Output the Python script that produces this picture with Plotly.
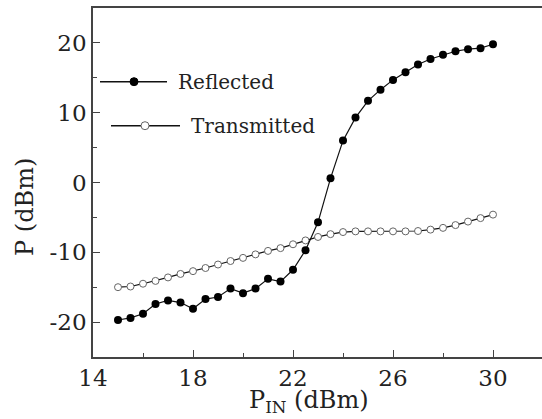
import plotly.graph_objects as go

# ---- data ----
p_in = [15.0, 15.5, 16.0, 16.5, 17.0, 17.5, 18.0, 18.5, 19.0, 19.5,
        20.0, 20.5, 21.0, 21.5, 22.0, 22.5, 23.0, 23.5, 24.0, 24.5,
        25.0, 25.5, 26.0, 26.5, 27.0, 27.5, 28.0, 28.5, 29.0, 29.5, 30.0]
reflected = [-19.7, -19.4, -18.8, -17.4, -16.9, -17.2, -18.1, -16.7, -16.4, -15.2,
             -15.85, -15.2, -13.8, -14.2, -12.5, -9.7, -5.7, 0.6, 6.0, 9.3,
             11.7, 13.3, 14.7, 15.8, 16.9, 17.7, 18.3, 18.8, 19.1, 19.25, 19.8]
transmitted = [-15.0, -14.9, -14.5, -14.1, -13.6, -13.1, -12.7, -12.25, -11.75, -11.25,
               -10.8, -10.3, -9.8, -9.4, -8.85, -8.3, -7.8, -7.4, -7.1, -7.0,
               -7.0, -7.0, -7.0, -7.0, -6.95, -6.75, -6.5, -6.1, -5.6, -5.1, -4.6]
series_names = ["Reflected", "Transmitted"]
x_ticks = [14, 18, 22, 26, 30]
y_ticks = [-20, -10, 0, 10, 20]
y_tick_labels = ["-20", "-10", "0", "10", "20"]

FONT = "DejaVu Serif"
TXT = "#222222"
W, H = 542, 419
ML, MR, MT, MB = 93, 0, 8, 62
PW, PH = W - ML - MR, H - MT - MB

def px(xp):
    return (xp - ML) / PW

def py(yp):
    return (H - MB - yp) / PH

fig = go.Figure()
fig.add_trace(go.Scatter(
    x=p_in, y=transmitted, mode="lines+markers", name=series_names[1],
    line=dict(color="#111111", width=1.2),
    marker=dict(symbol="circle", size=7, color="white",
                line=dict(color="#666666", width=1)),
    showlegend=False))
fig.add_trace(go.Scatter(
    x=p_in, y=reflected, mode="lines+markers", name=series_names[0],
    line=dict(color="#111111", width=1.2),
    marker=dict(symbol="circle", size=8, color="black",
                line=dict(color="black", width=0)),
    showlegend=False))

# ---- manual legend ----
legend_items = [
    (series_names[0], 100, 167, 134, 81.7, 176, True),
    (series_names[1], 111, 180, 145, 125.7, 189, False),
]
shapes = []
annotations = []
for name, lx0, lx1, mx, yy, tx, filled in legend_items:
    shapes.append(dict(type="line", xref="paper", yref="paper",
                       x0=px(lx0), x1=px(lx1), y0=py(yy), y1=py(yy),
                       line=dict(color="#111111", width=1.5)))
    shapes.append(dict(type="circle", xref="paper", yref="paper",
                       xsizemode="pixel", ysizemode="pixel",
                       xanchor=px(mx), yanchor=py(yy),
                       x0=-4, x1=4, y0=-4, y1=4,
                       fillcolor="black" if filled else "white",
                       line=dict(color="black" if filled else "#666666", width=1)))
    annotations.append(dict(xref="paper", yref="paper", x=px(tx), y=py(yy),
                            xanchor="left", yanchor="middle", showarrow=False,
                            text=name, font=dict(family=FONT, size=20, color=TXT)))

# axis titles
annotations.append(dict(xref="paper", yref="paper", x=px(309), y=py(401),
                        xanchor="center", yanchor="middle", showarrow=False,
                        text="P<sub>IN</sub> (dBm)",
                        font=dict(family=FONT, size=24, color=TXT)))
annotations.append(dict(xref="paper", yref="paper", x=px(25), y=py(207),
                        xanchor="center", yanchor="middle", showarrow=False,
                        textangle=-90, text="P (dBm)",
                        font=dict(family=FONT, size=24, color=TXT)))

fig.update_layout(
    width=W, height=H,
    margin=dict(l=ML, r=MR, t=MT, b=MB),
    paper_bgcolor="white", plot_bgcolor="white",
    font=dict(family=FONT, color=TXT),
    shapes=shapes, annotations=annotations,
    xaxis=dict(range=[14, 14 + PW / 25.0], tickvals=x_ticks,
               ticks="inside", ticklen=7, tickwidth=1.2, tickcolor="#444444",
               minor=dict(dtick=2, tick0=14, ticks="inside", ticklen=4,
                          tickwidth=1.2, tickcolor="#444444"),
               showline=True, linecolor="#444444", linewidth=1.5, mirror=True,
               showgrid=False, zeroline=False, automargin=False,
               tickfont=dict(family=FONT, size=23, color=TXT)),
    yaxis=dict(range=[-25, 25], tickvals=y_ticks, ticktext=y_tick_labels,
               ticks="inside", ticklen=7, tickwidth=1.2, tickcolor="#444444",
               minor=dict(dtick=5, tick0=0, ticks="inside", ticklen=4,
                          tickwidth=1.2, tickcolor="#444444"),
               showline=True, linecolor="#444444", linewidth=1.5, mirror=False,
               showgrid=False, zeroline=False, automargin=False,
               tickfont=dict(family=FONT, size=23, color=TXT)),
)

fig.write_html("out.html", config={"displayModeBar": False},
               post_script="document.body.style.margin='0px';"
                           "document.body.style.overflow='hidden';")
